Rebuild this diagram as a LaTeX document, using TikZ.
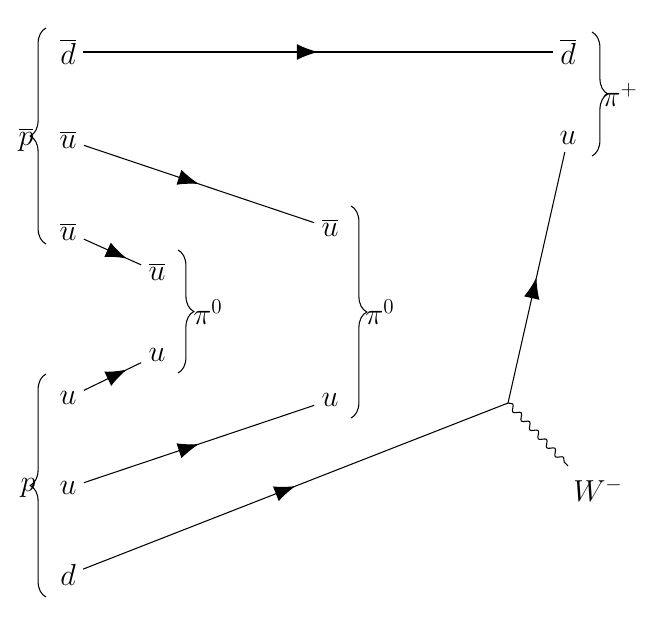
\documentclass[tikz,border=0pt]{standalone}
\usetikzlibrary{decorations.markings,decorations.pathreplacing,decorations.pathmorphing,arrows.meta}
\begin{document}
\begin{tikzpicture}[x=0.02cm,y=-0.02cm,
  lab/.style={font=\LARGE,inner sep=4pt},
  fer/.style={semithick,postaction={decorate},decoration={markings,mark=at position 0.5 with {\arrow{Latex[length=12pt,width=9pt]}}}},
  fershort/.style={semithick,postaction={decorate},decoration={markings,mark=at position 0.75 with {\arrow{Latex[length=12pt,width=9pt]}}}},
  brc/.style={semithick,decorate,decoration={brace,amplitude=9pt}},
  wav/.style={semithick,decorate,decoration={snake,amplitude=1.6pt,segment length=7pt}}]
\useasboundingbox (0,0) rectangle (672,620);
\node[lab] (d1) at (68,52) {$\overline{d}$};
\node[lab] (d2) at (568,52) {$\overline{d}$};
\node[lab] (ub1) at (68,140) {$\overline{u}$};
\node[lab] (ur) at (568,138) {$u$};
\node[lab] (ub2) at (68,232) {$\overline{u}$};
\node[lab] (ubm) at (157,272) {$\overline{u}$};
\node[lab] (um) at (157,355) {$u$};
\node[lab] (ul1) at (68,398) {$u$};
\node[lab] (ubb) at (330,228) {$\overline{u}$};
\node[lab] (ubt) at (330,400) {$u$};
\node[lab] (ul2) at (68,488) {$u$};
\node[lab] (dl) at (68,575) {$d$};
\coordinate (v) at (508,403);
\coordinate (w) at (568,466);
\node[lab] (W) at (598,490) {$W^-$};
\node[lab] (pb) at (26,140) {$\overline{p}$};
\node[lab] (p) at (28,488) {$p$};
\node[lab] (pip) at (620,95) {$\pi^+$};
\node[lab] (pi1) at (208,312) {$\pi^0$};
\node[lab] (pi2) at (380,312) {$\pi^0$};
\draw[fer] (d1) -- (d2);
\draw[fer] (ub1) -- (ubb);
\draw[fershort] (ub2) -- (ubm);
\draw[fershort] (ul1) -- (um);
\draw[fer] (ul2) -- (ubt);
\draw[fer] (dl) -- (v);
\draw[fer] (v) -- (ur);
\draw[wav] (v) -- (w);
\draw[brc] (46,244) -- (46,28);
\draw[brc] (46,597) -- (46,374);
\draw[brc] (592,32) -- (592,156);
\draw[brc] (178,250) -- (178,373);
\draw[brc] (351,206) -- (351,418);
\end{tikzpicture}
\end{document}
